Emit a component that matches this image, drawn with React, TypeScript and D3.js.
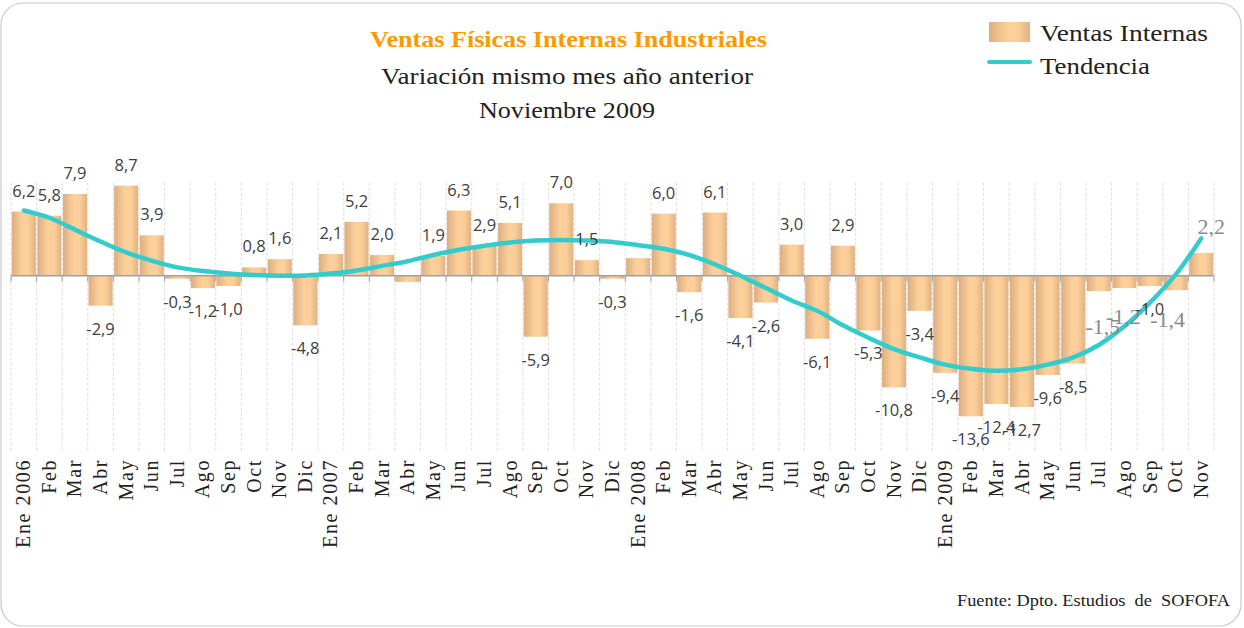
import React from "react";
import * as d3 from "d3";

const months = ["Ene 2006","Feb","Mar","Abr","May","Jun","Jul","Ago","Sep","Oct","Nov","Dic",
  "Ene 2007","Feb","Mar","Abr","May","Jun","Jul","Ago","Sep","Oct","Nov","Dic",
  "Ene 2008","Feb","Mar","Abr","May","Jun","Jul","Ago","Sep","Oct","Nov","Dic",
  "Ene 2009","Feb","Mar","Abr","May","Jun","Jul","Ago","Sep","Oct","Nov"];

const ventasInternas = [6.2,5.8,7.9,-2.9,8.7,3.9,-0.3,-1.2,-1.0,0.8,1.6,-4.8,
  2.1,5.2,2.0,-0.6,1.9,6.3,2.9,5.1,-5.9,7.0,1.5,-0.3,
  1.7,6.0,-1.6,6.1,-4.1,-2.6,3.0,-6.1,2.9,-5.3,-10.8,-3.4,
  -9.4,-13.6,-12.4,-12.7,-9.6,-8.5,-1.5,-1.2,-1.0,-1.4,2.2];

const tendencia = [6.3,5.6,4.45,3.3,2.25,1.45,0.8,0.45,0.22,0.07,0.0,0.02,
  0.2,0.5,0.95,1.4,2.0,2.5,2.9,3.2,3.4,3.45,3.4,3.25,
  2.95,2.6,2.0,1.1,0.0,-1.2,-2.4,-3.4,-4.8,-6.0,-7.1,-7.9,
  -8.6,-9.0,-9.2,-9.05,-8.6,-7.9,-6.7,-4.9,-2.6,0.1,3.6];

const hiddenLabels = [15, 24];
// label overrides (moved labels, shown in grey serif)
const movedLabels: Record<number, [number, number]> = {
  42: [4, 36],
  43: [-1, 29],
  45: [-8, 30],
  46: [10, -26],
};

const W = 1244, H = 628;
const fmt = (v: number) => v.toFixed(1).replace(".", ",");

export default function App() {
  const x = d3.scaleBand<number>().domain(d3.range(months.length)).range([11, 1214]).paddingInner(0.06).paddingOuter(0.03);
  const y = d3.scaleLinear().domain([-17, 9]).range([451.5, 182.6]);
  const step = x.step();
  const x0 = 11;
  const cx = (i: number) => (x(i) as number) + x.bandwidth() / 2;
  const line = d3.line<number>().x((_, i) => cx(i)).y((d) => y(d)).curve(d3.curveCatmullRom.alpha(0.5));
  const serif = "'Liberation Serif', 'DejaVu Serif', serif";
  const sans = "'Open Sans', 'DejaVu Sans', sans-serif";

  return (
    <div style={{ position: "absolute", left: 0, top: 0, width: W, height: H, background: "#fff" }}>
      <svg width={W} height={H} xmlns="http://www.w3.org/2000/svg">
        <defs>
          <linearGradient id="barGrad" x1="0" x2="1" y1="0" y2="0">
            <stop offset="0" stopColor="#dcae80" />
            <stop offset="0.45" stopColor="#fdd09b" />
            <stop offset="0.7" stopColor="#fcce98" />
            <stop offset="1" stopColor="#e0b284" />
          </linearGradient>
        </defs>
        <rect x={1} y={3} width={1240} height={623} rx={22} fill="#fff" stroke="#c8c8c8" strokeWidth={1.2} />

        {/* titles */}
        <text x={370} y={47} textLength={397} lengthAdjust="spacingAndGlyphs" fontFamily={serif} fontWeight="bold" fontSize={23} fill="#FF9900">Ventas Físicas Internas Industriales</text>
        <text x={381} y={84} textLength={372} lengthAdjust="spacingAndGlyphs" fontFamily={serif} fontSize={24} fill="#222">Variación mismo mes año anterior</text>
        <text x={479} y={118} textLength={176} lengthAdjust="spacingAndGlyphs" fontFamily={serif} fontSize={24} fill="#222">Noviembre 2009</text>

        {/* legend */}
        <rect x={989} y={22} width={41} height={20} fill="url(#barGrad)" />
        <text x={1040} y={41} textLength={168} lengthAdjust="spacingAndGlyphs" fontFamily={serif} fontSize={24} fill="#222">Ventas Internas</text>
        <line x1={989} x2={1030} y1={62} y2={62} stroke="#33cccc" strokeWidth={4} strokeLinecap="round" />
        <text x={1040} y={74} textLength={110} lengthAdjust="spacingAndGlyphs" fontFamily={serif} fontSize={24} fill="#222">Tendencia</text>

        {/* vertical gridlines */}
        {d3.range(months.length + 1).map((i) => (
          <line key={"g" + i} x1={x0 + i * step} x2={x0 + i * step} y1={y(9)} y2={y(-17)} stroke="#dcdcdc" strokeWidth={1} strokeDasharray="3,2" />
        ))}

        {/* bars */}
        {ventasInternas.map((v, i) => (
          <rect key={"b" + i} x={x(i)} width={x.bandwidth()} y={y(Math.max(0, v))} height={Math.abs(y(v) - y(0))} fill="url(#barGrad)" />
        ))}

        {/* zero axis */}
        <line x1={x0} x2={x0 + months.length * step} y1={y(0)} y2={y(0)} stroke="#a0a0a0" strokeWidth={1.5} />
        {d3.range(months.length + 1).map((i) => (
          <line key={"t" + i} x1={x0 + i * step} x2={x0 + i * step} y1={y(0)} y2={y(0) + 6} stroke="#a0a0a0" strokeWidth={1} />
        ))}

        {/* trend */}
        <path d={line(tendencia) || ""} fill="none" stroke="#33cccc" strokeWidth={4.5} strokeLinecap="round" />

        {/* data labels */}
        {ventasInternas.map((v, i) => {
          if (hiddenLabels.includes(i)) return null;
          const mv = movedLabels[i];
          if (mv) {
            return (
              <text key={"l" + i} x={cx(i) + mv[0]} y={y(v) + mv[1] + 7} textAnchor="middle" fontFamily={serif} fontSize={22} fill="#8a8a8a">{fmt(v)}</text>
            );
          }
          const ty = v >= 0 ? y(v) - 15 : y(v) + 29;
          return (
            <text key={"l" + i} x={cx(i)} y={ty} textAnchor="middle" fontFamily={sans} fontSize={16.5} fill="#404040">{fmt(v)}</text>
          );
        })}

        {/* category labels */}
        {months.map((m, i) => (
          <text key={"c" + i} transform={`translate(${cx(i) + 6.5},${459}) rotate(-90)`} textAnchor="end" fontFamily={serif} fontSize={20} letterSpacing={1.6} fill="#222">{m}</text>
        ))}

        <text x={957} y={606} textLength={273} lengthAdjust="spacingAndGlyphs" fontFamily={serif} fontSize={17} fill="#222" style={{ whiteSpace: "pre" }}>Fuente: Dpto. Estudios  de  SOFOFA</text>
      </svg>
    </div>
  );
}
